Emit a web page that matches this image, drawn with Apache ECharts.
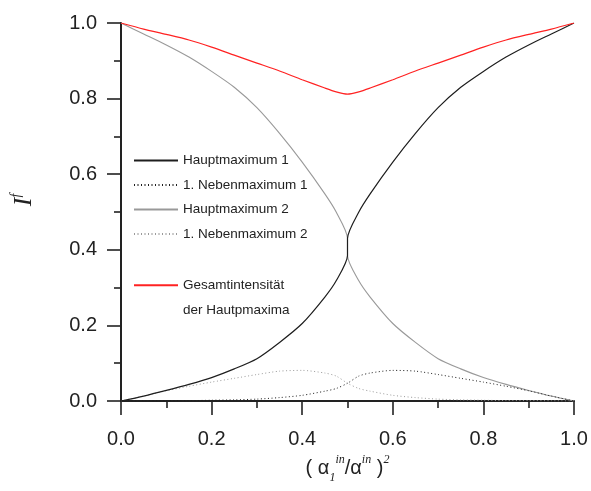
<!DOCTYPE html>
<html>
<head>
<meta charset="utf-8">
<script src="https://cdn.jsdelivr.net/npm/echarts@6/dist/echarts.min.js"></script>
<style>
html,body{margin:0;padding:0;background:#fff;}
#chart{width:591px;height:491px;}
</style>
</head>
<body>
<div id="chart"></div>
<script>
// x positions (0.5 appears twice: the two main maxima jump there)
var xs = [0,0.05,0.1,0.15,0.2,0.25,0.3,0.35,0.4,0.45,0.475,0.5,0.5,0.525,0.55,0.6,0.65,0.7,0.75,0.8,0.85,0.9,0.95,1];
var haupt1 = [0,0.013,0.028,0.044,0.062,0.085,0.112,0.155,0.205,0.275,0.318,0.385,0.43,0.5,0.548,0.632,0.708,0.776,0.83,0.872,0.91,0.942,0.971,1];
var neben1 = [0,0.0005,0.001,0.001,0.002,0.003,0.005,0.009,0.015,0.026,0.033,0.047,0.047,0.066,0.074,0.081,0.079,0.07,0.06,0.05,0.039,0.027,0.013,0];
var haupt2 = [1,0.971,0.942,0.91,0.872,0.83,0.776,0.708,0.632,0.548,0.5,0.43,0.385,0.318,0.275,0.205,0.155,0.112,0.085,0.062,0.044,0.028,0.013,0];
var neben2 = [0,0.013,0.027,0.039,0.05,0.06,0.07,0.079,0.081,0.074,0.066,0.047,0.047,0.033,0.026,0.015,0.009,0.005,0.003,0.002,0.001,0.001,0.0005,0];
var gesamt = [1,0.984,0.97,0.955,0.936,0.915,0.894,0.873,0.85,0.828,0.818,0.812,0.812,0.818,0.828,0.85,0.873,0.894,0.915,0.936,0.955,0.97,0.984,1];
var names = ['Hauptmaximum 1','1. Nebenmaximum 1','Hauptmaximum 2','1. Nebenmaximum 2','Gesamtintensität'];

function pairs(ys){ return xs.map(function(x,i){ return [x, ys[i]]; }); }

var chart = echarts.init(document.getElementById('chart'), null, {renderer:'canvas'});
var axisCol = '#222';
var legendFont = {fontFamily:'Liberation Sans, Arial', fontSize:13.5, color:'#222', lineHeight:14};
function lineSeries(name, data, color, width, type, z){
  return {name:name, type:'line', data:pairs(data), showSymbol:false, symbol:'none',
    smooth:0.25,
    lineStyle:{color:color, width:width, type:type}, itemStyle:{color:color}, z:z, animation:false};
}
var option = {
  animation:false,
  grid:{left:121, right:17, top:23, bottom:90, containLabel:false},
  legend:[
    {data:names.slice(0,4), orient:'vertical', left:133, top:153.5, padding:0, itemWidth:44, itemHeight:14, itemGap:10.5,
     itemStyle:{opacity:0}, textStyle:legendFont, selectedMode:false},
    {data:[names[4]], orient:'vertical', left:133, top:247, padding:0, itemWidth:44, itemHeight:14,
     itemStyle:{opacity:0},
     formatter:function(n){ return ' \n' + n + '\nder Hautpmaxima'; },
     textStyle:Object.assign({}, legendFont, {lineHeight:25.5}), selectedMode:false}
  ],
  xAxis:{type:'value', min:0, max:1, interval:0.2,
    axisLine:{show:true, onZero:false, lineStyle:{color:axisCol, width:2}},
    axisTick:{show:true, length:14, lineStyle:{color:axisCol, width:1.6}},
    minorTick:{show:true, splitNumber:2, length:7, lineStyle:{color:axisCol, width:1.6}},
    splitLine:{show:false},
    axisLabel:{margin:28, fontSize:20, fontFamily:'Liberation Sans, Arial', color:'#222', formatter:function(v){return v.toFixed(1);}},
    name:'{n|( α}{sub|1}{sup|in}{n|/α}{sup|in}{n| )}{sup|2}', nameLocation:'middle', nameGap:52,
    nameTextStyle:{rich:{
      n:{fontSize:20, fontFamily:'Liberation Sans, Arial', color:'#222', lineHeight:30},
      sub:{fontSize:12, fontStyle:'italic', fontFamily:'Liberation Serif, Times New Roman', color:'#222', verticalAlign:'bottom', lineHeight:12},
      sup:{fontSize:12, fontStyle:'italic', fontFamily:'Liberation Serif, Times New Roman', color:'#222', verticalAlign:'top', lineHeight:12}
    }}
  },
  yAxis:{type:'value', min:0, max:1, interval:0.2,
    axisLine:{show:true, onZero:false, lineStyle:{color:axisCol, width:2}},
    axisTick:{show:true, length:14, lineStyle:{color:axisCol, width:1.6}},
    minorTick:{show:true, splitNumber:2, length:7, lineStyle:{color:axisCol, width:1.6}},
    splitLine:{show:false},
    axisLabel:{margin:24, fontSize:20, fontFamily:'Liberation Sans, Arial', color:'#222', formatter:function(v){return v.toFixed(1);}},
    name:'{i|I}{s|f}', nameLocation:'middle', nameGap:82,
    nameTextStyle:{padding:[0,0,0,24], rich:{
      i:{fontSize:26, fontStyle:'italic', fontFamily:'Liberation Serif, Times New Roman', color:'#222', lineHeight:30},
      s:{fontSize:14, fontStyle:'italic', fontFamily:'Liberation Serif, Times New Roman', color:'#222', verticalAlign:'top', lineHeight:14}
    }}
  },
  series:[
    lineSeries(names[0], haupt1, '#1e1e1e', 1.2, 'solid', 4),
    lineSeries(names[1], neben1, '#1e1e1e', 1, [1,2.5], 3),
    lineSeries(names[2], haupt2, '#999999', 1.1, 'solid', 2),
    lineSeries(names[3], neben2, '#9a9a9a', 1, [1,2.5], 1),
    lineSeries(names[4], gesamt, '#ff2222', 1.2, 'solid', 5)
  ]
};
chart.setOption(option);
</script>
</body>
</html>
